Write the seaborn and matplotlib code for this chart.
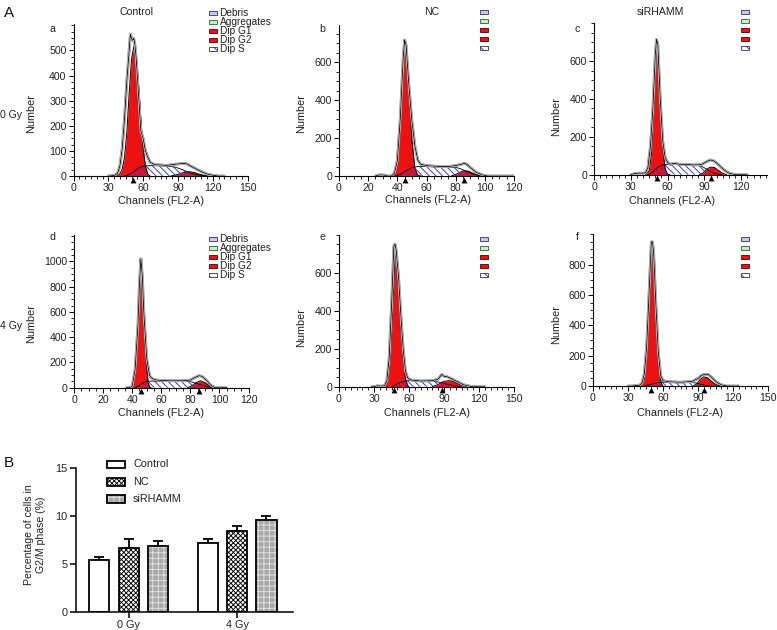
import numpy as np
import pandas as pd
import matplotlib
matplotlib.use("Agg")
import matplotlib.pyplot as plt
import seaborn as sns
from matplotlib.patches import Rectangle
from matplotlib.ticker import MultipleLocator
from matplotlib.container import BarContainer
import matplotlib.patheffects as pe

# ---------------- data: flow cytometry histograms (channel, count) ----------------
# panel a : Control 0 Gy
a_tot_ch = [30, 35, 38, 40, 42, 44, 46, 48, 49, 50, 51, 52, 53, 54, 56, 58, 60, 62, 64, 66, 70, 75, 80, 85, 90, 95, 98, 100, 105, 110, 115, 120, 125, 130]
a_tot_n = [0, 2, 10, 40, 110, 230, 380, 500, 565, 548, 540, 548, 520, 470, 330, 180, 150, 100, 75, 55, 45, 44, 42, 45, 48, 50, 48, 42, 30, 18, 8, 3, 0, 0]
a_g1_ch = [37, 40, 42, 44, 46, 48, 50, 52, 54, 56, 58, 60, 62, 64, 66]
a_g1_n = [0, 8, 28, 75, 175, 330, 465, 515, 480, 370, 230, 110, 40, 8, 0]
a_s_ch = [44, 48, 52, 56, 60, 64, 70, 80, 88, 94, 100, 105, 110, 114]
a_s_n = [0, 6, 18, 32, 39, 41, 41, 40, 35, 25, 13, 6, 2, 0]
a_g2_ch = [84, 88, 92, 96, 100, 104, 108, 112, 116]
a_g2_n = [0, 4, 10, 15, 17, 14, 8, 3, 0]
a_tri = [51]

# panel b : NC 0 Gy
b_tot_ch = [25, 27, 29, 31, 33, 36, 38, 40, 42, 44, 45, 46, 48, 50, 52, 54, 56, 60, 65, 70, 75, 80, 84, 86, 88, 90, 94, 98, 102, 110, 120]
b_tot_n = [0, 5, 6, 5, 0, 0, 15, 80, 300, 620, 718, 690, 470, 290, 160, 85, 62, 55, 52, 50, 50, 55, 62, 67, 60, 45, 20, 6, 0, 0, 0]
b_g1_ch = [37, 39, 41, 43, 45, 46, 48, 50, 52, 54, 56]
b_g1_n = [0, 35, 190, 480, 700, 690, 470, 190, 40, 5, 0]
b_s_ch = [38, 42, 46, 50, 54, 60, 70, 80, 84, 88, 92, 96, 98]
b_s_n = [0, 8, 28, 44, 50, 50, 48, 46, 36, 22, 10, 2, 0]
b_g2_ch = [77, 80, 83, 86, 89, 92, 95, 98]
b_g2_n = [0, 8, 20, 28, 25, 14, 5, 0]
b_tri = [45.5, 86]

# panel c : siRHAMM 0 Gy
c_tot_ch = [30, 33, 36, 40, 42, 44, 46, 48, 50, 51, 52, 54, 56, 58, 60, 62, 65, 70, 75, 80, 85, 88, 92, 95, 98, 102, 106, 110, 114, 116, 125]
c_tot_n = [0, 6, 8, 8, 10, 40, 150, 350, 640, 716, 690, 400, 180, 90, 65, 55, 60, 55, 55, 52, 52, 55, 70, 78, 72, 50, 25, 8, 2, 0, 0]
c_g1_ch = [42, 45, 47, 49, 51, 52, 54, 56, 58, 60, 62]
c_g1_n = [0, 20, 120, 380, 660, 640, 380, 140, 30, 3, 0]
c_s_ch = [44, 48, 52, 56, 60, 70, 80, 86, 90, 94, 98, 102, 104]
c_s_n = [0, 15, 40, 52, 55, 55, 53, 50, 36, 20, 8, 2, 0]
c_g2_ch = [86, 89, 92, 95, 98, 101, 104, 108]
c_g2_n = [0, 10, 30, 40, 38, 25, 10, 0]
c_tri = [51, 95]

# panel d : Control 4 Gy
d_tot_ch = [36, 38, 40, 42, 44, 45, 46, 47, 48, 50, 52, 54, 57, 65, 75, 80, 83, 86, 88, 91, 94, 97, 105]
d_tot_n = [0, 0, 10, 140, 500, 820, 1020, 880, 600, 230, 95, 70, 60, 55, 55, 60, 80, 95, 90, 60, 20, 0, 0]
d_g1_ch = [39.5, 41, 42, 43, 44, 45, 46, 47, 48, 49, 50, 51, 52, 53]
d_g1_n = [0, 50, 130, 270, 480, 800, 1010, 870, 560, 330, 160, 40, 5, 0]
d_s_ch = [42, 45, 48, 50, 52, 60, 70, 80, 84, 88, 92, 95]
d_s_n = [0, 20, 40, 50, 52, 52, 50, 48, 35, 20, 8, 0]
d_g2_ch = [78, 81, 84, 87, 90, 93, 96]
d_g2_n = [0, 15, 40, 55, 40, 15, 0]
d_tri = [46, 86]

# panel e : NC 4 Gy
e_tot_ch = [28, 30, 33, 36, 39, 41, 43, 45, 47, 48, 49, 51, 53, 55, 57, 59, 62, 70, 80, 85, 88, 90, 93, 97, 102, 107, 112, 115, 125]
e_tot_n = [0, 0, 5, 3, 5, 30, 150, 420, 740, 752, 720, 580, 380, 200, 80, 45, 35, 30, 32, 40, 65, 55, 52, 40, 25, 10, 3, 0, 0]
e_g1_ch = [39, 42, 44, 46, 48, 49, 51, 53, 55, 57, 59, 60]
e_g1_n = [0, 40, 150, 400, 680, 700, 560, 330, 150, 40, 5, 0]
e_s_ch = [45, 50, 55, 60, 70, 80, 85, 90, 95, 100, 104]
e_s_n = [0, 15, 28, 32, 30, 28, 25, 18, 10, 4, 0]
e_g2_ch = [80, 85, 90, 94, 98, 102, 106, 110]
e_g2_n = [0, 12, 28, 32, 28, 15, 5, 0]
e_tri = [47.5, 88.5]

# panel f : siRHAMM 4 Gy
f_tot_ch = [30, 34, 36, 40, 42, 44, 46, 48, 50, 51, 52, 54, 56, 58, 60, 65, 75, 85, 90, 93, 96, 99, 102, 106, 110, 113, 115, 125]
f_tot_n = [0, 0, 3, 5, 20, 80, 260, 600, 950, 950, 880, 520, 220, 70, 35, 28, 25, 30, 50, 70, 78, 75, 55, 25, 8, 2, 0, 0]
f_g1_ch = [41, 44, 46, 48, 50, 51, 52, 54, 56, 58, 59, 60]
f_g1_n = [0, 40, 200, 550, 930, 947, 850, 500, 200, 40, 10, 0]
f_s_ch = [44, 50, 55, 60, 70, 80, 88, 92, 96, 100, 102]
f_s_n = [0, 12, 22, 25, 25, 25, 20, 12, 5, 1, 0]
f_g2_ch = [86, 89, 92, 95, 98, 101, 104, 107, 110]
f_g2_n = [0, 15, 45, 60, 55, 35, 15, 4, 0]
f_tri = [50, 95]

legend_labels = ["Debris", "Aggregates", "Dip G1", "Dip G2", "Dip S"]
col_titles = ["Control", "NC", "siRHAMM"]
row_titles = ["0 Gy", "4 Gy"]

# ---------------- data: bar chart (panel B) ----------------
groups = ["Control", "NC", "siRHAMM"]
doses = ["0 Gy", "4 Gy"]
pct_control = [5.38, 7.19]
pct_nc = [6.67, 8.40]
pct_si = [6.84, 9.55]
err_control = [0.28, 0.41]
err_nc = [0.90, 0.53]
err_si = [0.56, 0.42]

# ---------------- style ----------------
sns.set_theme(style="ticks")
plt.rcParams["font.family"] = ["Liberation Sans", "DejaVu Sans"]
plt.rcParams["hatch.linewidth"] = 0.65

W, H = 777, 630
RED = "#ee1111"
BLUE = "#2f2fe0"
BRICK_FACE = "#a9a9a9"
BRICK_LINE = "#e2e2e2"

fig = plt.figure(figsize=(W / 100, H / 100), dpi=100)


def fx(x):
    return x / W


def fy(y):
    return 1 - y / H


def add_axes_px(left, top, right, bottom):
    return fig.add_axes([fx(left), fy(bottom), (right - left) / W, (bottom - top) / H])


def hist_panel(ax, tot, g1, s, g2, tri, xlim, ylim, xmaj, yticks, ymin):
    ax.fill_between(g1[0], 0, g1[1], color=RED, lw=0, zorder=2)
    ax.plot(g1[0], g1[1], color="black", lw=0.7, zorder=3)
    ax.fill_between(g2[0], 0, g2[1], color=RED, lw=0, zorder=2)
    ax.plot(g2[0], g2[1], color="black", lw=0.7, zorder=3)
    ax.fill_between(s[0], 0, s[1], facecolor="none", edgecolor=BLUE,
                    hatch="\\\\\\\\\\", lw=0, zorder=4)
    ax.plot(s[0], s[1], color="black", lw=0.6, zorder=5)
    sns.lineplot(x=tot[0], y=tot[1], ax=ax, color="black", lw=0.6, sort=False,
                 estimator=None, zorder=6,
                 path_effects=[pe.Stroke(linewidth=2.0, foreground="#7a7a7a"),
                               pe.Stroke(linewidth=1.2, foreground="white"),
                               pe.Normal()])
    ax.scatter(tri, [-0.024] * len(tri), marker="^", s=18, color="black",
               transform=ax.get_xaxis_transform(), clip_on=False, zorder=7, lw=0)
    ax.set_xlim(*xlim)
    ax.set_ylim(*ylim)
    ax.set_xticks(np.arange(xlim[0], xlim[1] + 0.1, xmaj))
    ax.set_yticks(yticks)
    ax.xaxis.set_minor_locator(MultipleLocator(5))
    ax.yaxis.set_minor_locator(MultipleLocator(ymin))
    ax.tick_params(which="major", direction="out", length=3.5, width=0.7,
                   labelsize=7.6, pad=1.5, color="black", labelcolor="#222222")
    ax.tick_params(which="minor", direction="out", length=2, width=0.6, color="black")
    for sp in ["top", "right"]:
        ax.spines[sp].set_visible(False)
    for sp in ["left", "bottom"]:
        ax.spines[sp].set_linewidth(0.8)
        ax.spines[sp].set_color("black")
    ax.set_xlabel("")
    ax.set_ylabel("")
    ax.set_facecolor("none")


def legend_boxes(x0, y0, show_text):
    faces = ["#c4c8f2", "#c6eec6", RED, RED, "white"]
    edges = ["#303060", "#306030", "#500000", "#500000", "#303060"]
    for i in range(5):
        yc = y0 + i * 9.0
        r = Rectangle((fx(x0), fy(yc + 2.0)), 8 / W, 4.0 / H, transform=fig.transFigure,
                      facecolor=faces[i], edgecolor=edges[i], lw=0.6)
        fig.add_artist(r)
        if i == 4:
            r2 = Rectangle((fx(x0), fy(yc + 2.0)), 8 / W, 4.0 / H, transform=fig.transFigure,
                           facecolor="none", edgecolor=BLUE, hatch="\\\\\\", lw=0)
            fig.add_artist(r2)
        if show_text:
            fig.text(fx(x0 + 10.5), fy(yc), legend_labels[i], fontsize=7.3,
                     ha="left", va="center", color="#222222")


# ---------------- histogram panels ----------------
panels = [
    dict(pos=(73.5, 23.5, 247.5, 176), data=(a_tot_ch, a_tot_n), g1=(a_g1_ch, a_g1_n), s=(a_s_ch, a_s_n),
         g2=(a_g2_ch, a_g2_n), tri=a_tri, xlim=(0, 150), ylim=(0, 607), xmaj=30,
         yt=[0, 100, 200, 300, 400, 500], ymin=25, letter="a"),
    dict(pos=(339, 25, 514, 176), data=(b_tot_ch, b_tot_n), g1=(b_g1_ch, b_g1_n), s=(b_s_ch, b_s_n),
         g2=(b_g2_ch, b_g2_n), tri=b_tri, xlim=(0, 120), ylim=(0, 797), xmaj=20,
         yt=[0, 200, 400, 600], ymin=50, letter="b"),
    dict(pos=(594, 23, 767, 174.7), data=(c_tot_ch, c_tot_n), g1=(c_g1_ch, c_g1_n), s=(c_s_ch, c_s_n),
         g2=(c_g2_ch, c_g2_n), tri=c_tri, xlim=(0, 141), ylim=(0, 802), xmaj=30,
         yt=[0, 200, 400, 600], ymin=50, letter="c"),
    dict(pos=(74, 235, 248.5, 387.7), data=(d_tot_ch, d_tot_n), g1=(d_g1_ch, d_g1_n), s=(d_s_ch, d_s_n),
         g2=(d_g2_ch, d_g2_n), tri=d_tri, xlim=(0, 120), ylim=(0, 1208), xmaj=20,
         yt=[0, 200, 400, 600, 800, 1000], ymin=50, letter="d"),
    dict(pos=(339, 235, 514, 386.7), data=(e_tot_ch, e_tot_n), g1=(e_g1_ch, e_g1_n), s=(e_s_ch, e_s_n),
         g2=(e_g2_ch, e_g2_n), tri=e_tri, xlim=(0, 150), ylim=(0, 800), xmaj=30,
         yt=[0, 200, 400, 600], ymin=50, letter="e"),
    dict(pos=(593, 234, 768, 386), data=(f_tot_ch, f_tot_n), g1=(f_g1_ch, f_g1_n), s=(f_s_ch, f_s_n),
         g2=(f_g2_ch, f_g2_n), tri=f_tri, xlim=(0, 150), ylim=(0, 1002), xmaj=30,
         yt=[0, 200, 400, 600, 800], ymin=50, letter="f"),
]

letter_pos = [(52, 29), (322, 29), (577, 29), (52, 237), (322, 237), (577, 237)]
number_pos = [(31, 114), (301, 114), (556, 117), (31, 324), (301, 328), (556, 325)]
chan_pos = [(161, 201), (428, 200), (672, 201), (161, 413), (427, 413), (680, 413)]
legend_pos = [(209, 13.3, True), (480, 12.3, False), (741, 12.3, False),
              (209, 239.3, True), (480, 239.0, False), (741, 239.3, False)]

for i, p in enumerate(panels):
    ax = add_axes_px(*p["pos"])
    hist_panel(ax, p["data"], p["g1"], p["s"], p["g2"], p["tri"], p["xlim"], p["ylim"],
               p["xmaj"], p["yt"], p["ymin"])
    fig.text(fx(letter_pos[i][0]), fy(letter_pos[i][1]), p["letter"], fontsize=7.6,
             ha="center", va="center", color="#222222")
    fig.text(fx(number_pos[i][0]), fy(number_pos[i][1]), "Number", fontsize=7.8,
             rotation=90, ha="center", va="center", color="#222222")
    fig.text(fx(chan_pos[i][0]), fy(chan_pos[i][1]), "Channels (FL2-A)", fontsize=7.8,
             ha="center", va="center", color="#222222")
    legend_boxes(*legend_pos[i])

# column / row titles
for t, x in zip(col_titles, [137, 432, 660]):
    fig.text(fx(x), fy(12), t, fontsize=7.6, ha="center", va="center", color="#222222")
for t, y in zip(row_titles, [115, 326]):
    fig.text(fx(0.5), fy(y), t, fontsize=7.6, ha="left", va="center", color="#222222")
fig.text(fx(4), fy(13), "A", fontsize=11, ha="left", va="center", color="#111111")
fig.text(fx(4), fy(463), "B", fontsize=11, ha="left", va="center", color="#111111")

# ---------------- bar chart (panel B) ----------------
axB = add_axes_px(75.7, 467.7, 293, 611.7)
df = pd.DataFrame({
    "dose": doses * 3,
    "group": [g for g in groups for _ in doses],
    "pct": pct_control + pct_nc + pct_si,
})
errs = [err_control, err_nc, err_si]
sns.barplot(data=df, x="dose", y="pct", hue="group", order=doses, hue_order=groups,
            palette=["white", "white", BRICK_FACE], edgecolor="black", linewidth=1.3,
            width=0.815, gap=0.32, errorbar=None, legend=False, ax=axB, zorder=2)

bar_conts = [c for c in axB.containers if isinstance(c, BarContainer)]
for gi, cont in enumerate(bar_conts):
    xs, hs, ws = [], [], []
    for bar in cont.patches:
        xs.append(bar.get_x() + bar.get_width() / 2)
        hs.append(bar.get_height())
        ws.append(bar.get_width())
        if gi == 1:
            bar.set_hatch("xxxxxxx")
        elif gi == 2:
            bar.set_hatch("+++")
            bar.set_edgecolor(BRICK_LINE)
    if gi == 2:
        axB.bar(xs, hs, width=ws, fill=False, edgecolor="black", linewidth=1.3, zorder=3)
    axB.errorbar(xs, hs, yerr=[np.zeros(len(hs)), errs[gi]], fmt="none", ecolor="black",
                 elinewidth=1.3, capsize=3.4, capthick=1.3, zorder=1)

axB.set_xlim(-0.487, 1.516)
axB.set_ylim(0, 15)
axB.set_yticks([0, 5, 10, 15])
axB.set_xlabel("")
axB.set_ylabel("")
axB.tick_params(direction="out", length=4, width=1.1, labelsize=7.8, pad=2,
                color="black", labelcolor="#222222")
for sp in ["top", "right"]:
    axB.spines[sp].set_visible(False)
for sp in ["left", "bottom"]:
    axB.spines[sp].set_linewidth(1.1)
    axB.spines[sp].set_color("black")

fig.text(fx(34.5), fy(535), "Percentage of cells in\nG2/M phase (%)", fontsize=7.6,
         rotation=90, ha="center", va="center", linespacing=1.25, color="#222222")

# legend for bars
leg_rows = [464.3, 481.7, 499.0]
leg_face = ["white", "white", BRICK_FACE]
leg_hatch = [None, "xxxxxxx", "+++"]
leg_hcol = ["black", "black", BRICK_LINE]
for i, g in enumerate(groups):
    yc = leg_rows[i]
    r = Rectangle((fx(107.3), fy(yc + 3.8)), 17.7 / W, 7.6 / H, transform=fig.transFigure,
                  facecolor=leg_face[i], edgecolor=leg_hcol[i], hatch=leg_hatch[i], lw=0)
    fig.add_artist(r)
    r2 = Rectangle((fx(107.3), fy(yc + 3.8)), 17.7 / W, 7.6 / H, transform=fig.transFigure,
                   facecolor="none", edgecolor="black", lw=1.3)
    fig.add_artist(r2)
    fig.text(fx(133), fy(yc), g, fontsize=7.8, ha="left", va="center", color="#222222")

fig.savefig("out.png", dpi=100)
